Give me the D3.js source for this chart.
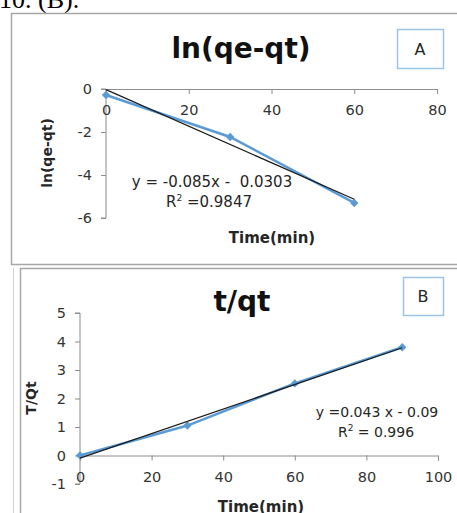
<!DOCTYPE html>
<html lang="en">
<head>
  <meta charset="UTF-8">
  <title>Kinetic plots</title>
  <style>
    body { margin: 0; background: #fff; }
    svg { display: block; }
    text { font-family: "DejaVu Sans", sans-serif; fill: #262626; white-space: pre; }
    .axis path, .axis line { stroke: #8c8c8c; }
    .axis text { font-family: "DejaVu Sans", sans-serif; font-size: 14.5px; fill: #333; }
  </style>
  <script src="https://d3js.org/d3.v7.min.js"></script>
</head>
<body>
<svg width="457" height="513"></svg>
<script>
// panel A: pseudo-first-order
const timeA = [0, 30, 60];
const lnA = [-0.28, -2.23, -5.3];
const ticksXA = [0, 20, 40, 60, 80];
const ticksYA = [0, -2, -4, -6];
const fitA = { slope: -0.085, icept: -0.0303, r2: "0.9847" };

// panel B: pseudo-second-order
const timeB = [0, 30, 60, 90];
const tqB = [0, 1.05, 2.53, 3.8];
const ticksXB = [0, 20, 40, 60, 80, 100];
const ticksYB = [-1, 0, 1, 2, 3, 4, 5];
const fitB = { slope: 0.043, icept: -0.09, r2: "0.996" };

const svg = d3.select("svg");
const blue = "#5b9bd5";

// caption line cut at top
svg.append("text").attr("x", -1).attr("y", 8)
  .style("font-family", "'Liberation Serif', serif").style("font-size", "26px").style("fill", "#000")
  .text("10. (B).");

// frames
svg.append("rect").attr("x", 11.5).attr("y", 13.5).attr("width", 460).attr("height", 251)
  .attr("fill", "none").attr("stroke", "#a6a6a6").attr("stroke-width", 1.5);
svg.append("line").attr("x1", 13.5).attr("x2", 13.5).attr("y1", 268).attr("y2", 520)
  .attr("stroke", "#d0d0d0");
svg.append("rect").attr("x", 20.5).attr("y", 268.5).attr("width", 460).attr("height", 260)
  .attr("fill", "none").attr("stroke", "#a6a6a6").attr("stroke-width", 1.5);

function panel(o) {
  const x = d3.scaleLinear().domain(o.xd).range(o.xr);
  const y = d3.scaleLinear().domain(o.yd).range(o.yr);
  const g = svg.append("g");
  const fmt = d => String(d);

  // y axis
  const ya = g.append("g").attr("class", "axis").attr("transform", `translate(${x(0)},0)`)
    .call(d3.axisLeft(y).tickValues(o.ty).tickSize(5).tickPadding(o.ypad).tickFormat(fmt));
  // x axis at y=0
  const xa = g.append("g").attr("class", "axis").attr("transform", `translate(0,${y(0)})`)
    .call(d3.axisBottom(x).tickValues(o.tx).tickSize(5).tickSizeOuter(5).tickPadding(o.xpad).tickFormat(fmt));
  ya.select(".domain").attr("d", `M-5,${y(o.yd[1])}H0V${y(o.yd[0])}H-5`);
  if (o.xLabelsAtBottom) {
    xa.selectAll(".tick text").attr("y", y(o.yd[0]) - y(0) - 7).attr("dy", "0.35em");
  }

  // data series
  const pts = o.xs.map((v, i) => [v, o.ys[i]]);
  g.append("path").datum(pts)
    .attr("fill", "none").attr("stroke", blue).attr("stroke-width", 2.5)
    .attr("d", d3.line().x(d => x(d[0])).y(d => y(d[1])));
  g.selectAll(".mk").data(pts).enter().append("path")
    .attr("transform", d => `translate(${x(d[0])},${y(d[1])})`)
    .attr("d", d3.symbol(d3.symbolDiamond2, 45)).attr("fill", blue);

  // trendline
  const x0 = d3.min(o.xs), x1 = d3.max(o.xs);
  g.append("line").attr("x1", x(x0)).attr("y1", y(o.fit.slope * x0 + o.fit.icept))
    .attr("x2", x(x1)).attr("y2", y(o.fit.slope * x1 + o.fit.icept))
    .attr("stroke", "#1a1a1a").attr("stroke-width", 1.2);

  // equation
  g.append("text").attr("x", o.eqx).attr("y", o.eqy).attr("text-anchor", "middle")
    .style("font-size", o.eqSize + "px").text(o.eqText);
  const r2 = g.append("text").attr("x", o.r2x).attr("y", o.eqy + 20).attr("text-anchor", "middle")
    .style("font-size", o.eqSize + "px");
  r2.append("tspan").text("R");
  r2.append("tspan").attr("dy", -6).style("font-size", "9px").text("2");
  r2.append("tspan").attr("dy", 6).text(o.r2sep + o.fit.r2);

  // titles
  g.append("text").attr("x", o.titleX).attr("y", o.titleY).attr("text-anchor", "middle")
    .style("font-size", "28px").style("font-weight", "bold").style("fill", "#111").text(o.title);
  g.append("text").attr("x", o.xlabX).attr("y", o.xlabY).attr("text-anchor", "middle")
    .style("font-size", "15px").style("font-weight", "bold").text("Time(min)");
  g.append("text").attr("transform", `translate(${o.ylabX},${o.ylabY}) rotate(-90)`)
    .attr("text-anchor", "middle").style("font-size", "14px").style("font-weight", "bold").text(o.ylab);

  // letter box
  g.append("rect").attr("x", o.box[0] + 0.5).attr("y", o.box[1] + 0.5).attr("width", o.box[2]).attr("height", o.box[3])
    .attr("fill", "#fff").attr("stroke", "#9dc3e6").attr("stroke-width", 1.5);
  g.append("text").attr("x", o.box[0] + o.box[2] / 2).attr("y", o.box[1] + o.box[3] / 2 + 6)
    .attr("text-anchor", "middle").style("font-size", "16px").text(o.letter);
}

panel({
  xd: [0, 80], xr: [106, 437], yd: [-6, 0], yr: [218, 89],
  tx: ticksXA, ty: ticksYA, xpad: 11, ypad: 9, xs: timeA, ys: lnA, fit: fitA,
  eqText: "y = -0.085x -  0.0303", eqSize: 15, eqx: 212, eqy: 187, r2x: 209, r2sep: " =",
  title: "ln(qe-qt)", titleX: 241, titleY: 58,
  xlabX: 272, xlabY: 243, ylabX: 52, ylabY: 153, ylab: "ln(qe-qt)",
  box: [397, 29, 46, 39], letter: "A"
});

panel({
  xd: [0, 100], xr: [80, 438], yd: [-1, 5], yr: [484, 313],
  tx: ticksXB, ty: ticksYB, xpad: 8, ypad: 9, xs: timeB, ys: tqB, fit: fitB, xLabelsAtBottom: true,
  eqText: "y =0.043 x - 0.09", eqSize: 14, eqx: 377, eqy: 417, r2x: 376, r2sep: " = ",
  title: "t/qt", titleX: 242, titleY: 311,
  xlabX: 261, xlabY: 512, ylabX: 36, ylabY: 398, ylab: "T/Qt",
  box: [403, 277, 40, 38], letter: "B"
});
</script>
</body>
</html>
